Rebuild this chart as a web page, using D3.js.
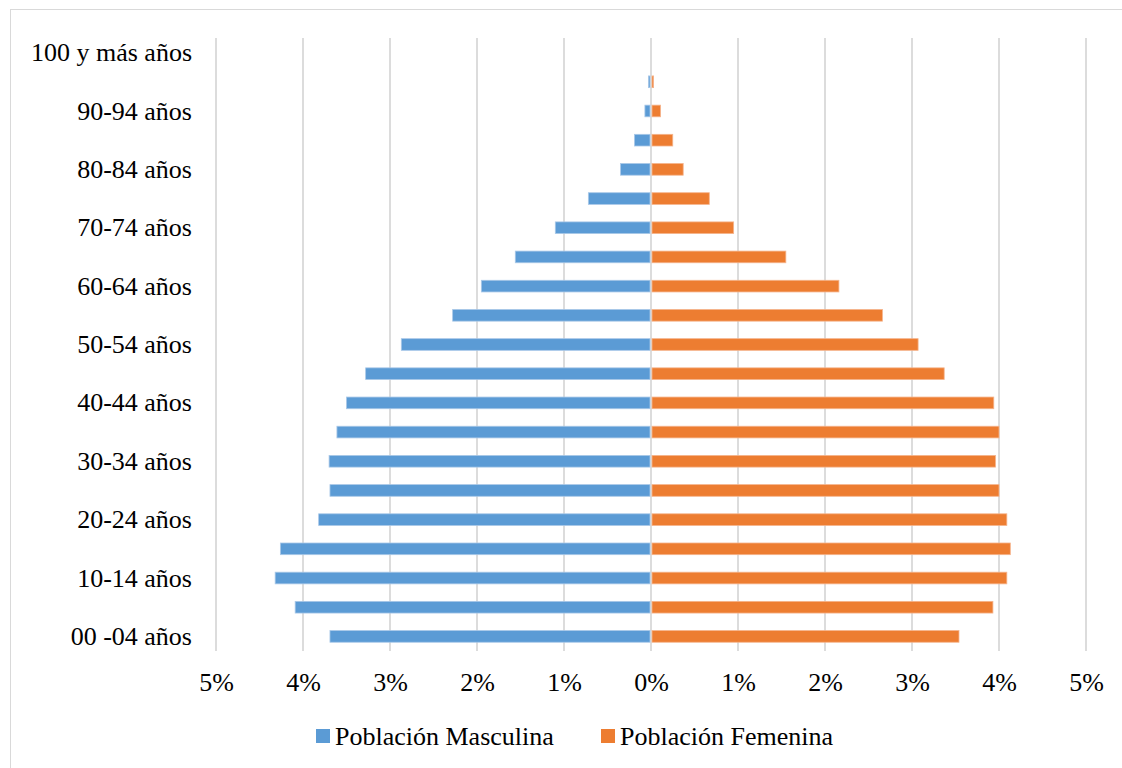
<!DOCTYPE html>
<html>
<head>
<meta charset="utf-8">
<script src="https://cdn.jsdelivr.net/npm/d3@7"></script>
<style>
  html, body { margin: 0; padding: 0; background: #fff; }
  svg { display: block; }
</style>
</head>
<body>
<svg id="chart" width="1122" height="768"></svg>
<script>
const categories = ["00 -04 años","05-09 años","10-14 años","15-19 años","20-24 años","25-29 años","30-34 años","35-39 años","40-44 años","45-49 años","50-54 años","55-59 años","60-64 años","65-69 años","70-74 años","75-79 años","80-84 años","85-89 años","90-94 años","95-99 años","100 y más años"];
const male   = [3.69, 4.09, 4.32, 4.26, 3.82, 3.69, 3.70, 3.61, 3.50, 3.28, 2.87, 2.28, 1.95, 1.56, 1.10, 0.72, 0.35, 0.19, 0.07, 0.03, 0.005];
const female = [3.54, 3.93, 4.09, 4.13, 4.09, 4.00, 3.96, 4.00, 3.94, 3.37, 3.07, 2.66, 2.16, 1.55, 0.95, 0.67, 0.37, 0.25, 0.11, 0.03, 0.005];
const xTicks = [-5, -4, -3, -2, -1, 0, 1, 2, 3, 4, 5];
const seriesNames = ["Población Masculina", "Población Femenina"];
const colors = ["#5B9BD5", "#ED7D31"];

const FONT = "'Liberation Serif', 'Times New Roman', Tinos, Times, serif";
const svg = d3.select("#chart").attr("font-family", FONT);
const FS = 26;

// outer frame
svg.append("rect").attr("x", 10.5).attr("y", 9.5).attr("width", 1130).attr("height", 780)
  .attr("fill", "none").attr("stroke", "#d9d9d9").attr("stroke-width", 1);

const plotLeft = 216, plotRight = 1086, plotTop = 38, plotBottom = 651;
const x = d3.scaleLinear().domain([-5, 5]).range([plotLeft, plotRight]);
const y = d3.scaleBand().domain(categories).range([plotBottom, plotTop]).paddingInner(0.6).paddingOuter(0.3);

// gridlines
svg.append("g").selectAll("line").data(xTicks).join("line")
  .attr("x1", d => x(d)).attr("x2", d => x(d))
  .attr("y1", plotTop).attr("y2", plotBottom)
  .attr("stroke", "#d9d9d9").attr("stroke-width", 1.8);

// bars
const rows = categories.map((c, i) => ({ c, m: male[i], f: female[i] }));
svg.append("g").selectAll("rect").data(rows).join("rect")
  .attr("x", d => x(-d.m))
  .attr("y", d => y(d.c))
  .attr("width", d => Math.max(0, x(0) - 1 - x(-d.m)))
  .attr("height", y.bandwidth())
  .attr("fill", colors[0]).attr("stroke", "#a9c8e8").attr("stroke-width", 0.8);
svg.append("g").selectAll("rect").data(rows).join("rect")
  .attr("x", x(0) + 1)
  .attr("y", d => y(d.c))
  .attr("width", d => Math.max(0, x(d.f) - x(0) - 1))
  .attr("height", y.bandwidth())
  .attr("fill", colors[1]).attr("stroke", "#f5b48c").attr("stroke-width", 0.8);

// y axis labels
const yAxis = d3.axisLeft(y).tickSize(0).tickPadding(0)
  .tickValues(categories.filter((c, i) => i % 2 === 0));
const gy = svg.append("g").attr("transform", `translate(192,0)`).call(yAxis);
gy.attr("font-family", FONT).attr("font-size", FS);
gy.select(".domain").remove();
gy.selectAll("text").attr("font-family", FONT).attr("fill", "#000").attr("dy", "0.33em");

// x axis labels
const xAxis = d3.axisBottom(x).tickValues(xTicks).tickSize(0).tickPadding(22)
  .tickFormat(d => Math.abs(d) + "%");
const gx = svg.append("g").attr("transform", `translate(0,${plotBottom})`).call(xAxis);
gx.attr("font-family", FONT).attr("font-size", FS);
gx.select(".domain").remove();
gx.selectAll("text").attr("font-family", FONT).attr("fill", "#000");

// legend
const legendX = [316, 601];
const lg = svg.append("g").attr("font-family", FONT).attr("font-size", FS);
seriesNames.forEach((name, i) => {
  lg.append("rect").attr("x", legendX[i]).attr("y", 729).attr("width", 14).attr("height", 14).attr("fill", colors[i]);
  lg.append("text").attr("x", legendX[i] + 19).attr("y", 745).attr("fill", "#000").text(name);
});
</script>
</body>
</html>
